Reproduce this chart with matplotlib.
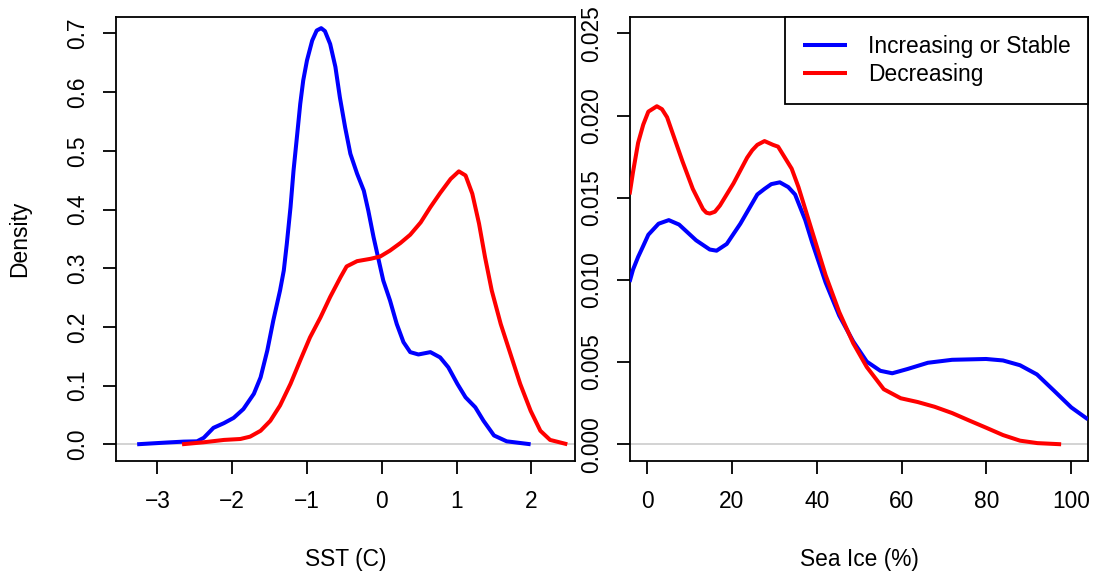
import matplotlib
matplotlib.use("Agg")
import matplotlib.pyplot as plt

plt.rcParams['font.family'] = ['Liberation Sans', 'DejaVu Sans']

# ---- Data ----
sst_blue_x = [-3.27, -2.87, -2.65, -2.47, -2.38, -2.25, -2.11, -1.98, -1.85, -1.71,
              -1.62, -1.53, -1.45, -1.36, -1.31, -1.27, -1.22, -1.18, -1.13, -1.09,
              -1.05, -1.00, -0.93, -0.87, -0.81, -0.76, -0.69, -0.62, -0.56, -0.49,
              -0.42, -0.33, -0.24, -0.18, -0.11, -0.04, 0.02, 0.11, 0.20, 0.29,
              0.38, 0.49, 0.65, 0.78, 0.89, 1.01, 1.12, 1.25, 1.36, 1.50, 1.67, 1.99]
sst_blue_y = [0.0, 0.003, 0.0045, 0.005, 0.011, 0.028, 0.036, 0.045, 0.060, 0.086,
              0.114, 0.160, 0.211, 0.262, 0.296, 0.341, 0.404, 0.466, 0.529, 0.580,
              0.620, 0.654, 0.688, 0.705, 0.709, 0.704, 0.682, 0.643, 0.591, 0.540,
              0.495, 0.461, 0.432, 0.398, 0.353, 0.313, 0.279, 0.245, 0.205, 0.174,
              0.157, 0.153, 0.157, 0.148, 0.131, 0.103, 0.080, 0.063, 0.040, 0.015, 0.005, 0.0]

sst_red_x = [-2.67, -2.38, -2.11, -1.89, -1.76, -1.62, -1.49, -1.36, -1.22, -1.09,
             -0.96, -0.82, -0.69, -0.55, -0.47, -0.33, -0.15, -0.02, 0.11, 0.25,
             0.38, 0.52, 0.65, 0.78, 0.92, 1.03, 1.12, 1.21, 1.30, 1.38,
             1.47, 1.59, 1.72, 1.85, 1.99, 2.12, 2.25, 2.48]
sst_red_y = [0.0, 0.0034, 0.0074, 0.009, 0.013, 0.023, 0.040, 0.066, 0.103, 0.143,
             0.182, 0.216, 0.251, 0.285, 0.303, 0.312, 0.316, 0.320, 0.330, 0.343,
             0.357, 0.378, 0.404, 0.428, 0.452, 0.465, 0.458, 0.427, 0.376, 0.319,
             0.262, 0.205, 0.154, 0.103, 0.057, 0.023, 0.0074, 0.0]

ice_blue_x = [-4.1, -3.3, -2.09, -0.88, 0.32, 2.73, 5.14, 7.56, 11.58, 14.8, 16.4,
              18.8, 22.0, 26.0, 27.7, 29.3, 31.3, 33.3, 34.9, 37.3, 38.9, 42.1, 45.3,
              48.6, 51.8, 55.0, 57.8, 61.4, 66.2, 71.9, 79.9, 83.9, 87.9, 91.9, 96.0,
              100.0, 103.9]
ice_blue_y = [0.00988, 0.01062, 0.0114, 0.01207, 0.01275, 0.01342, 0.01364, 0.01337,
              0.01241, 0.01185, 0.01178, 0.01219, 0.01342, 0.0152, 0.01554, 0.01583,
              0.01594, 0.01565, 0.0152, 0.01364, 0.0123, 0.00984, 0.00783, 0.00626,
              0.00503, 0.00447, 0.00432, 0.00458, 0.00496, 0.00514, 0.00519, 0.0051,
              0.00481, 0.00425, 0.00324, 0.00224, 0.00152]

ice_red_x = [-4.1, -3.3, -2.09, -0.88, 0.32, 2.33, 3.54, 4.74, 5.95, 8.36, 10.8,
             13.2, 14.0, 14.8, 16.0, 17.2, 20.4, 23.6, 24.8, 26.0, 27.7, 29.7, 30.9,
             32.5, 34.1, 35.7, 38.9, 42.1, 45.3, 48.6, 51.8, 55.8, 59.8, 63.8, 67.8,
             71.9, 75.9, 79.9, 83.9, 87.9, 92.0, 97.6]
ice_red_y = [0.0152, 0.01655, 0.01834, 0.01945, 0.02024, 0.02057, 0.02039, 0.0199,
             0.019, 0.01722, 0.01554, 0.01431, 0.01409, 0.01404, 0.01415, 0.01453,
             0.01588, 0.01744, 0.01789, 0.01822, 0.01845, 0.01822, 0.01811, 0.01744,
             0.01677, 0.01565, 0.01297, 0.01029, 0.00805, 0.00615, 0.0047, 0.00335,
             0.0028, 0.00257, 0.00228, 0.0019, 0.00145, 0.00101, 0.00056, 0.00022,
             0.00007, 0.0]

sst_xticks = [-3, -2, -1, 0, 1, 2]
sst_yticks = [0.0, 0.1, 0.2, 0.3, 0.4, 0.5, 0.6, 0.7]
sst_ylabels = ["0.0", "0.1", "0.2", "0.3", "0.4", "0.5", "0.6", "0.7"]
ice_xticks = [0, 20, 40, 60, 80, 100]
ice_yticks = [0.0, 0.005, 0.010, 0.015, 0.020, 0.025]
ice_ylabels = ["0.000", "0.005", "0.010", "0.015", "0.020", "0.025"]
legend_labels = ["Increasing or Stable", "Decreasing"]

FS = 16.4
LW = 2.9

fig = plt.figure(figsize=(10.94, 5.75), dpi=100)
ax1 = fig.add_axes([0.10603, 0.19878, 0.41929, 0.77165])
ax2 = fig.add_axes([0.57587, 0.19878, 0.41892, 0.77165])

def style(ax, xticks, yticks, ylabels):
    for s in ax.spines.values():
        s.set_linewidth(1.3)
        s.set_color('black')
    ax.set_xticks(xticks)
    ax.set_yticks(yticks)
    ax.set_yticklabels(ylabels, rotation=90, va='center')
    ax.tick_params(axis='both', direction='out', length=9.4, width=1.3,
                   labelsize=FS, color='black')
    ax.tick_params(axis='x', pad=12)
    ax.tick_params(axis='y', pad=10)
    ax.axhline(0, color='#D3D3D3', lw=1.4, zorder=1)

kw = dict(lw=LW, zorder=3, solid_joinstyle='round', solid_capstyle='butt')
ax1.plot(sst_blue_x, sst_blue_y, color='#0000FF', **kw)
ax1.plot(sst_red_x, sst_red_y, color='#FF0000', **kw)
ax1.set_xlim(-3.553, 2.579)
ax1.set_ylim(-0.028, 0.728)
style(ax1, sst_xticks, sst_yticks, sst_ylabels)
ax1.set_xlabel("SST (C)", fontsize=FS, labelpad=25)
ax1.set_ylabel("Density", fontsize=FS, labelpad=25)

l1, = ax2.plot(ice_blue_x, ice_blue_y, color='#0000FF', **kw)
l2, = ax2.plot(ice_red_x, ice_red_y, color='#FF0000', **kw)
ax2.set_xlim(-4, 104)
ax2.set_ylim(-0.001, 0.026)
style(ax2, ice_xticks, ice_yticks, ice_ylabels)
ax2.set_xlabel("Sea Ice (%)", fontsize=FS, labelpad=25)

leg = ax2.legend([l1, l2], legend_labels, loc='upper right', fontsize=FS,
                 frameon=True, fancybox=False, borderaxespad=0, borderpad=0.78,
                 handlelength=1.95, handletextpad=0.9, labelspacing=0.23)
leg.get_frame().set_edgecolor('black')
leg.get_frame().set_linewidth(1.3)
leg.get_frame().set_alpha(1)

fig.savefig("out.png", dpi=100)
